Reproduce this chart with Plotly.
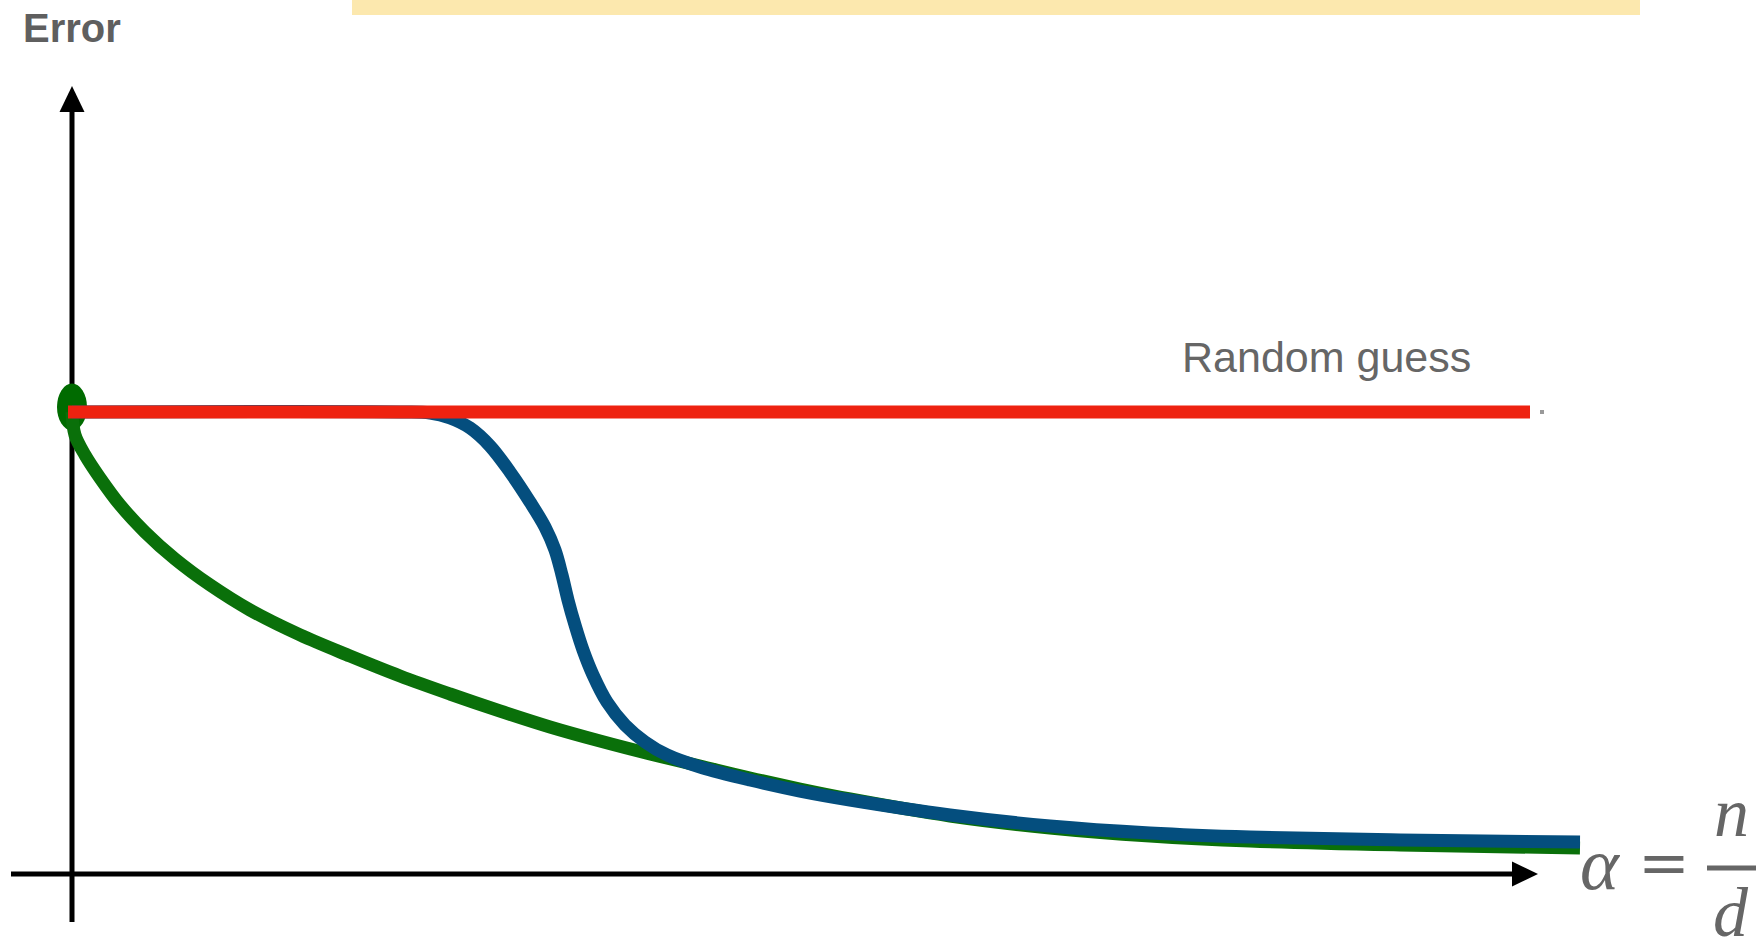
import plotly.graph_objects as go

# alpha = n/d on the x axis, error on the y axis
green_alpha = [0, 0.03, 0.13, 0.28, 0.48, 0.73, 1.03, 1.38, 1.78, 2.28, 2.78, 3.28, 3.78,
               4.28, 4.78, 5.28, 5.78, 6.28, 6.78, 7.28, 7.78, 8.78, 9.78, 10.78, 11.78,
               13.28, 15.08]
green_err = [0.5, 0.4751, 0.4535, 0.4286, 0.3994, 0.3701, 0.3409, 0.3128, 0.2857, 0.2587,
             0.2359, 0.2143, 0.1948, 0.1764, 0.1591, 0.1439, 0.1299, 0.1169, 0.1039,
             0.092, 0.0812, 0.0628, 0.0498, 0.0411, 0.0357, 0.0314, 0.0281]

blue_alpha = [0, 3.28, 3.58, 3.78, 3.98, 4.18, 4.38, 4.58, 4.73, 4.83, 4.90, 4.96, 5.03,
              5.11, 5.21, 5.35, 5.53, 5.73, 5.95, 6.28, 6.78, 7.28, 7.78, 8.78, 9.78,
              10.78, 11.78, 13.28, 15.08]
blue_err = [0.5, 0.5, 0.4989, 0.4935, 0.4827, 0.4632, 0.4351, 0.4026, 0.3755, 0.3506,
            0.3236, 0.2965, 0.2695, 0.2424, 0.2154, 0.1861, 0.1613, 0.1429, 0.1288,
            0.1158, 0.1017, 0.0898, 0.0801, 0.0639, 0.052, 0.0444, 0.04, 0.0368, 0.0346]

red_alpha = [-0.04, 14.58]
red_err = [0.5, 0.5]

W, H = 1759, 939


# pixel helpers for the hand-drawn decorations (axes, labels)
def px(x):
    return (x - 72) / 100


def py(y):
    return (874 - y) / 924


GREY = "#666666"

fig = go.Figure()
fig.add_trace(go.Scatter(x=green_alpha, y=green_err, mode="lines",
                         line=dict(color="#0a700a", width=13, shape="spline", smoothing=1)))
fig.add_trace(go.Scatter(x=blue_alpha, y=blue_err, mode="lines",
                         line=dict(color="#044e7e", width=13, shape="spline", smoothing=1)))
fig.add_trace(go.Scatter(x=red_alpha, y=red_err, mode="lines",
                         line=dict(color="#ee2210", width=13)))
fig.add_trace(go.Scatter(x=[14.7], y=[0.5], mode="markers",
                         marker=dict(color="#999999", size=4, symbol="square")))

shapes = [
    # yellow strip at top
    dict(type="rect", xref="paper", yref="paper", x0=352 / W, x1=1640 / W,
         y0=1 - 15 / H, y1=1, fillcolor="#fce8ae", line=dict(width=0), layer="below"),
    # y axis
    dict(type="line", x0=px(72), x1=px(72), y0=py(922), y1=py(108),
         line=dict(color="black", width=5), layer="below"),
    dict(type="path", path=f"M {px(59.5)} {py(112)} L {px(72)} {py(86)} L {px(84.5)} {py(112)} Z",
         fillcolor="black", line=dict(width=0), layer="below"),
    # x axis
    dict(type="line", x0=px(11), x1=px(1516), y0=py(874), y1=py(874),
         line=dict(color="black", width=5), layer="below"),
    dict(type="path", path=f"M {px(1512)} {py(861.5)} L {px(1538)} {py(874)} L {px(1512)} {py(886.5)} Z",
         fillcolor="black", line=dict(width=0), layer="below"),
    # green start dot
    dict(type="circle", x0=px(57), x1=px(87), y0=py(430.5), y1=py(383.5),
         fillcolor="#006b00", line=dict(width=0), layer="below"),
    # fraction bar
    dict(type="line", x0=px(1707), x1=px(1756), y0=py(868), y1=py(868),
         line=dict(color=GREY, width=5)),
]

serif = "Liberation Serif, DejaVu Serif, serif"
sans = "Liberation Sans, Arial, sans-serif"
annotations = [
    dict(x=px(21), y=py(28), text="<b>Error</b>", showarrow=False, xanchor="left",
         yanchor="middle", font=dict(family=sans, size=40, color="#5f5f5f")),
    dict(x=px(1180), y=py(357), text="Random guess", showarrow=False, xanchor="left",
         yanchor="middle", font=dict(family=sans, size=43, color=GREY)),
    dict(x=px(1600), y=py(864), text="<i>α</i>", showarrow=False, xanchor="center",
         yanchor="middle", font=dict(family=serif, size=74, color=GREY)),
    dict(x=px(1664), y=py(862), text="=", showarrow=False, xanchor="center",
         yanchor="middle", font=dict(family="DejaVu Serif, serif", size=62, color=GREY)),
    dict(x=px(1731), y=py(812), text="<i>n</i>", showarrow=False, xanchor="center",
         yanchor="middle", font=dict(family=serif, size=70, color=GREY)),
    dict(x=px(1731), y=py(912), text="<i>d</i>", showarrow=False, xanchor="center",
         yanchor="middle", font=dict(family=serif, size=70, color=GREY)),
]

fig.update_layout(
    width=W, height=H,
    margin=dict(l=0, r=0, t=0, b=0),
    paper_bgcolor="white", plot_bgcolor="white",
    showlegend=False,
    shapes=shapes,
    annotations=annotations,
    xaxis=dict(range=[px(0), px(W)], visible=False, fixedrange=True),
    yaxis=dict(range=[py(H), py(0)], visible=False, fixedrange=True),
)

# drop the default page margin so the figure sits at the window corner
fig.write_html("out.html", post_script="document.body.style.margin='0';",
               config={"displayModeBar": False})
